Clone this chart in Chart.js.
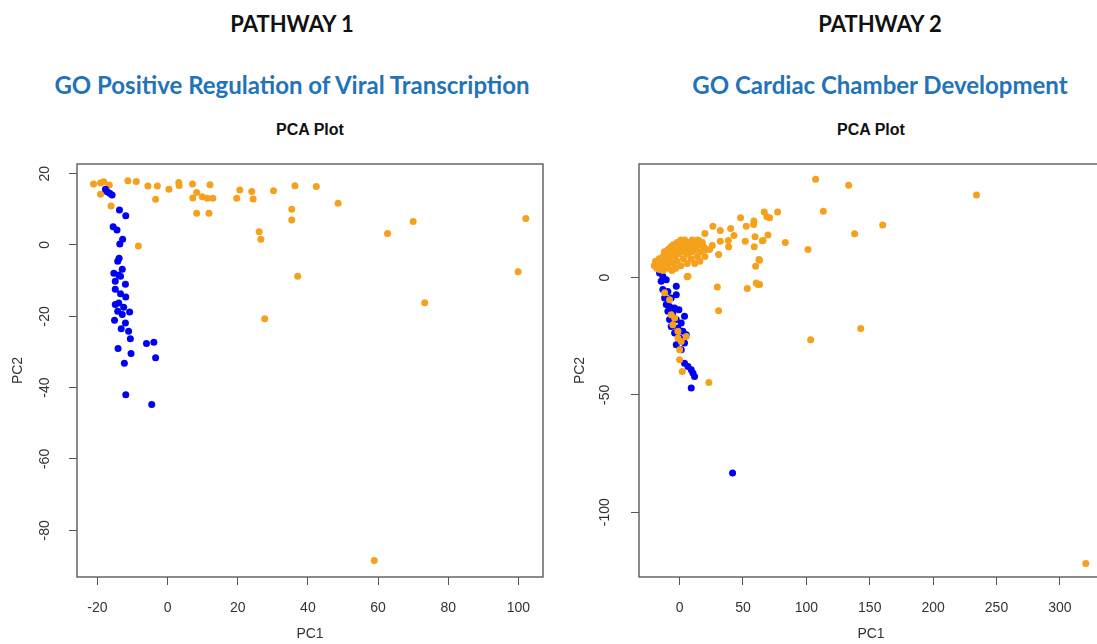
<!DOCTYPE html>
<html>
<head>
<meta charset="utf-8">
<script src="https://cdn.jsdelivr.net/npm/chart.js@4.4.1/dist/chart.umd.min.js"></script>
<style>
  html, body { margin: 0; padding: 0; background: #fff; }
  body { width: 1097px; height: 644px; position: relative; overflow: hidden; }
  .hdr { position: absolute; text-align: center; white-space: nowrap; font-family: Lato, "Noto Sans", sans-serif; font-weight: 700; }
  .pathway { font-size: 22px; color: #111; top: 10px; }
  .goterm { font-size: 24px; color: #2273b8; top: 70px; }
  .plottitle { position: absolute; text-align: center; font-family: "Liberation Sans", Arial, sans-serif; font-weight: 700; font-size: 16px; color: #111; top: 121px; }
  .panel { position: absolute; top: 110px; width: 560px; height: 534px; }
</style>
</head>
<body>
  <div class="hdr pathway" style="left:192px;width:200px">PATHWAY 1</div>
  <div class="hdr goterm" style="left:-8px;width:600px">GO Positive Regulation of Viral Transcription</div>
  <div class="plottitle" style="left:210px;width:200px">PCA Plot</div>

  <div class="hdr pathway" style="left:780px;width:200px">PATHWAY 2</div>
  <div class="hdr goterm" style="left:580px;width:600px">GO Cardiac Chamber Development</div>
  <div class="plottitle" style="left:771px;width:200px">PCA Plot</div>

  <div class="panel" style="left:0px"><canvas id="pca1"></canvas></div>
  <div class="panel" style="left:560px"><canvas id="pca2"></canvas></div>

<script>
// ---- pathway 1: GO positive regulation of viral transcription ----
const p1Orange = [
  [-21.1,17.1],[-19.1,17.4],[-18.2,17.7],[-16.6,16.8],[-19.1,14.2],[-16.1,10.9],[-11.3,18.0],[-8.9,17.8],
  [-5.6,16.5],[-2.9,16.5],[-3.4,12.8],[0.4,15.6],[3.2,17.5],[3.3,16.7],[7.1,17.1],[12.1,16.9],[8.3,14.7],
  [7.2,13.2],[9.9,13.5],[11.3,13.1],[12.9,13.1],[8.3,8.9],[11.8,8.9],[20.6,15.4],[19.7,13.1],[24.0,15.0],
  [24.4,12.9],[30.2,15.2],[26.1,3.7],[26.6,1.6],[-8.3,-0.3],[36.3,16.6],[42.4,16.4],[35.4,10.0],[35.4,7.0],
  [48.6,11.7],[37.1,-8.8],[62.7,3.2],[70.0,6.6],[102.1,7.4],[99.9,-7.5],[73.3,-16.2],[27.7,-20.7],[58.9,-88.5]
];
const p1Blue = [
  [-17.7,15.6],[-17.2,14.9],[-16.5,14.5],[-15.8,14.0],[-13.7,9.8],[-11.9,8.2],[-15.5,5.1],[-14.4,4.2],
  [-12.8,1.6],[-13.6,0.3],[-13.8,-3.7],[-14.2,-4.6],[-12.9,-6.8],[-15.3,-7.9],[-13.9,-8.4],[-13.4,-8.8],
  [-14.9,-10.2],[-12.0,-11.0],[-14.9,-12.4],[-13.4,-13.7],[-11.9,-14.6],[-14.9,-16.7],[-13.9,-16.3],
  [-12.5,-17.5],[-14.2,-18.6],[-10.8,-18.8],[-12.9,-19.5],[-15.1,-21.1],[-12.0,-21.9],[-13.2,-23.5],
  [-11.1,-24.2],[-10.6,-26.3],[-14.1,-29.0],[-10.4,-30.4],[-12.3,-33.2],[-6.0,-27.6],[-3.9,-27.3],
  [-3.4,-31.6],[-11.9,-42.0],[-4.5,-44.7]
];
const p1XTicks = [-20, 0, 20, 40, 60, 80, 100];
const p1YTicks = [20, 0, -20, -40, -60, -80];
const p1XRange = [-25.8, 107];
const p1YRange = [-93.1, 22.7];

// ---- pathway 2: GO cardiac chamber development ----
const p2Orange = [
  [107.3,41.9],[133.4,39.3],[234.2,35.2],[66.8,27.9],[68.9,25.9],[71,25.5],[77.3,27.9],[113.4,28.3],
  [160.2,22.4],[138.1,18.7],[69.7,18.1],[65.3,15.7],[83.4,15],[101.3,12],[63.1,7.4],[63.1,-3],
  [142.9,-21.7],[103.4,-26.5],[48.1,25.5],[58.6,24.1],[58.4,22.6],[52.6,21.9],[26.3,21.9],[32.1,20.1],
  [40.3,20.9],[42.9,17.9],[20,18.8],[15.2,15.8],[25.8,13.7],[32.1,15.5],[38.4,15.8],[38.7,13.1],
  [51.8,15.5],[59.5,17.4],[65.8,15.8],[58.9,13.1],[23.7,12],[30.8,9.8],[62.6,7.7],[60,4.8],[6,0.3],
  [-11.8,-6.5],[-7.9,-9.4],[-6.6,-15.8],[-3.9,-17.2],[-5.3,-20.1],[-1.3,-22.9],[-1.3,-25.8],[5.3,-25.1],
  [1.3,-27.2],[0,-30.8],[0,-35],[2.1,-40],[23.1,-44.7],[6.6,0.6],[29.8,-4],[30.8,-14.1],[53.4,-4.7],
  [60.5,-2.3],[61.8,-3],[-15.8,3.4],[320.4,-121.8],
  // dense group near the origin
  [-20,5],[-19,7],[-18,4],[-17,6],[-16,8],[-15,5],[-14,7],[-13,9],[-12,6],[-12,11],[-11,8],[-10,10],
  [-10,5],[-9,12],[-8,7],[-8,9],[-7,13],[-6,11],[-5,6],[-5,14],[-4,9],[-3,12],[-2,15],[-2,7],[-1,10],
  [0,13],[1,5],[1,16],[2,11],[3,8],[3,14],[4,16],[5,12],[6,6],[6,10],[7,15],[8,13],[9,8],[10,16],
  [10,11],[11,14],[12,6],[13,12],[14,16],[14,9],[15,14],[16,7],[17,11],[18,15],[19,13],[20,9],[21,12],
  [-16,4],[-13,3],[-9,4],[-6,3],[-3,4]
];
const p2Blue = [
  [-15.8,2],[-13.2,0.6],[-14.5,-1.6],[-10.5,-0.9],[-2.6,-3.7],[-13.2,-5.1],[-9.2,-5.9],[-2.6,-7.3],
  [-11.8,-8.7],[-6.6,-8.7],[-10.5,-11.5],[-7.9,-12.3],[-3.9,-13],[-0.5,-13.7],[-9.2,-14.4],[-5.3,-15.1],
  [3.9,-16.5],[-7.9,-17.9],[-2.6,-17.9],[1.3,-19.4],[-6.6,-20.8],[-1.3,-21.5],[2.6,-22.9],[-3.9,-23.6],
  [5.3,-24.4],[0,-25.8],[-2.6,-28.6],[3.9,-27.9],[1.3,-30.8],[3.9,-36.5],[6.6,-37.9],[9.2,-39.3],
  [10.5,-40.7],[11.8,-42.2],[9.2,-47.1],[41.8,-83.3]
];
const p2XTicks = [0, 50, 100, 150, 200, 250, 300];
const p2YTicks = [0, -50, -100];
const p2XRange = [-32, 334];
const p2YRange = [-127.6, 48.4];

const ORANGE = "#f5a11c";
const BLUE = "#0000f5";

const toXY = (arr) => arr.map(p => ({ x: p[0], y: p[1] }));

// R-style frame round the plotting region
const boxPlugin = {
  id: "rbox",
  afterDraw(chart) {
    const { ctx, chartArea: a } = chart;
    ctx.save();
    ctx.strokeStyle = "#5a5a5a";
    ctx.lineWidth = 1.4;
    ctx.strokeRect(a.left, a.top, a.right - a.left, a.bottom - a.top);
    ctx.restore();
  }
};

function makePca(id, sets, xRange, yRange, xTicks, yTicks, yAxisW, yTickPad, yTitlePad) {
  return new Chart(document.getElementById(id), {
    type: "scatter",
    data: {
      datasets: sets.map(s => ({
        data: toXY(s.data),
        backgroundColor: s.color,
        borderWidth: 0,
        pointRadius: 3.5,
        pointHoverRadius: 3.5
      }))
    },
    options: {
      responsive: false,
      animation: false,
      events: [],
      layout: { padding: { top: 54, right: 17, left: 0, bottom: 0 } },
      plugins: { legend: { display: false }, tooltip: { enabled: false } },
      scales: {
        x: {
          type: "linear",
          min: xRange[0],
          max: xRange[1],
          afterBuildTicks: (s) => { s.ticks = xTicks.map(v => ({ value: v })); },
          afterFit: (s) => { s.height = 67; },
          border: { display: false },
          grid: { drawOnChartArea: false, drawTicks: true, tickLength: 8, color: "#555" },
          ticks: { color: "#333", padding: 15, font: { family: "Liberation Sans", size: 14 } },
          title: { display: true, text: "PC1", color: "#333", padding: { top: 0, bottom: 1 },
                   font: { family: "Liberation Sans", size: 14 } }
        },
        y: {
          type: "linear",
          min: yRange[0],
          max: yRange[1],
          afterBuildTicks: (s) => { s.ticks = yTicks.map(v => ({ value: v })); },
          afterFit: (s) => { s.width = yAxisW; },
          border: { display: false },
          grid: { drawOnChartArea: false, drawTicks: true, tickLength: 8, color: "#555" },
          ticks: { color: "#333", padding: yTickPad, minRotation: 90, maxRotation: 90, crossAlign: "center",
                   font: { family: "Liberation Sans", size: 14 } },
          title: { display: true, text: "PC2", color: "#333", padding: { top: yTitlePad, bottom: 0 },
                   font: { family: "Liberation Sans", size: 14 } }
        }
      }
    },
    plugins: [boxPlugin]
  });
}

// blue sits on top in the first panel, orange on top in the second
const c1 = document.getElementById("pca1");
c1.width = 560; c1.height = 534;
const c2 = document.getElementById("pca2");
c2.width = 560; c2.height = 534;

makePca("pca1",
  [{ data: p1Blue, color: BLUE }, { data: p1Orange, color: ORANGE }],
  p1XRange, p1YRange, p1XTicks, p1YTicks, 77, 14, 10);

makePca("pca2",
  [{ data: p2Orange, color: ORANGE }, { data: p2Blue, color: BLUE }],
  p2XRange, p2YRange, p2XTicks, p2YTicks, 79, 12, 12);
</script>
</body>
</html>
